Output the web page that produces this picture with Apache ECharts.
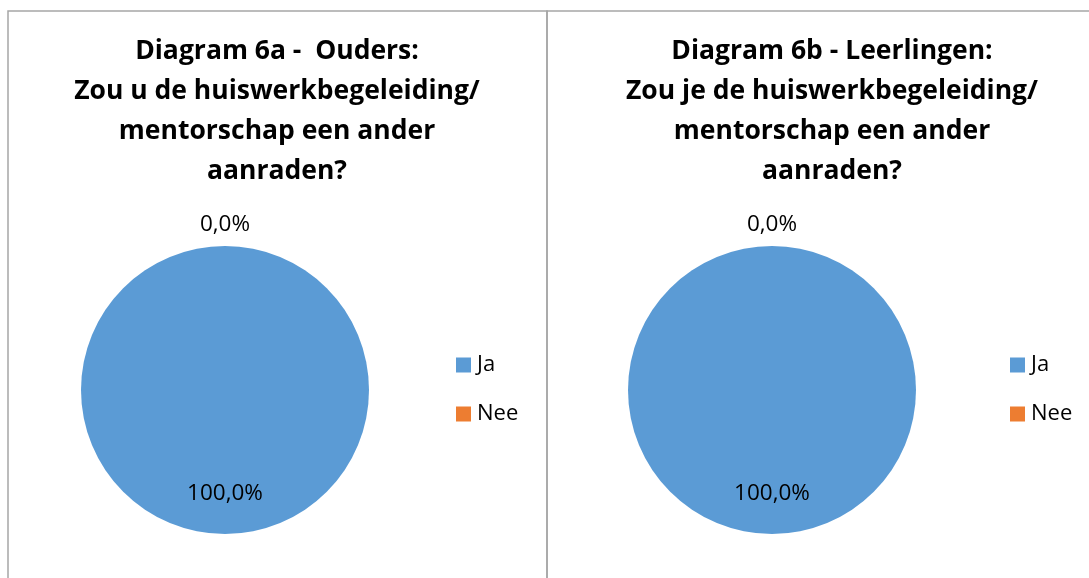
<!DOCTYPE html>
<html>
<head>
<meta charset="utf-8">
<script src="https://cdn.jsdelivr.net/npm/echarts@6/dist/echarts.min.js"></script>
<style>
  html, body { margin: 0; padding: 0; background: #fff; }
  #chart { width: 1089px; height: 578px; }
</style>
</head>
<body>
<div id="chart"></div>
<script>
const categories = ['Ja', 'Nee'];
const oudersValues = [100, 0];
const leerlingenValues = [100, 0];
const titleOuders = 'Diagram 6a -  Ouders:\nZou u de huiswerkbegeleiding/\nmentorschap een ander\naanraden?';
const titleLeerlingen = 'Diagram 6b - Leerlingen:\nZou je de huiswerkbegeleiding/\nmentorschap een ander\naanraden?';
const colors = ['#5B9BD5', '#ED7D31'];

const FONT = '"Open Sans", "Noto Sans", sans-serif';

function fmt(p) {
  return p.percent.toFixed(1).replace('.', ',') + '%';
}

function pieSeries(values, cx) {
  return {
    type: 'pie',
    center: [cx, 390],
    radius: 144,
    startAngle: 90,
    clockwise: true,
    avoidLabelOverlap: false,
    itemStyle: { borderWidth: 0 },
    label: {
      show: true,
      formatter: fmt,
      fontFamily: FONT,
      fontSize: 22.5,
      color: '#000',
      distanceToLabelLine: 0
    },
    labelLine: { show: false, length: 21, length2: 0 },
    emphasis: { disabled: true },
    data: categories.map((c, i) => ({
      name: c,
      value: values[i],
      label: { position: i === 0 ? 'inside' : 'outside' }
    })),
    labelLayout: function (params) {
      if (params.dataIndex === 0) return { dy: 29 };
      return { align: 'center', verticalAlign: 'middle' };
    }
  };
}

function legend(left) {
  return {
    orient: 'vertical',
    left: left,
    top: 354,
    padding: 0,
    itemWidth: 15,
    itemHeight: 15,
    itemGap: 27,
    icon: 'rect',
    selectedMode: false,
    data: categories,
    textStyle: { fontFamily: FONT, fontSize: 22, color: '#000', padding: [0, 0, 0, 1] }
  };
}

const chart = echarts.init(document.getElementById('chart'), null, { renderer: 'canvas' });
chart.setOption({
  animation: false,
  color: colors,
  title: [
    {
      text: titleOuders, left: 277, top: 31, textAlign: 'center', padding: 0,
      textStyle: { fontFamily: FONT, fontWeight: 'bold', fontSize: 26.5, lineHeight: 40, color: '#000', align: 'center' }
    },
    {
      text: titleLeerlingen, left: 832, top: 31, textAlign: 'center', padding: 0,
      textStyle: { fontFamily: FONT, fontWeight: 'bold', fontSize: 26.5, lineHeight: 40, color: '#000', align: 'center' }
    }
  ],
  legend: [legend(456), legend(1010)],
  graphic: [
    { type: 'rect', shape: { x: 8, y: 11, width: 539, height: 620 }, style: { fill: 'none', stroke: '#a6a6a6', lineWidth: 1.5 }, silent: true },
    { type: 'rect', shape: { x: 547, y: 11, width: 620, height: 620 }, style: { fill: 'none', stroke: '#a6a6a6', lineWidth: 1.5 }, silent: true }
  ],
  series: [pieSeries(oudersValues, 225), pieSeries(leerlingenValues, 772)]
});
</script>
</body>
</html>
